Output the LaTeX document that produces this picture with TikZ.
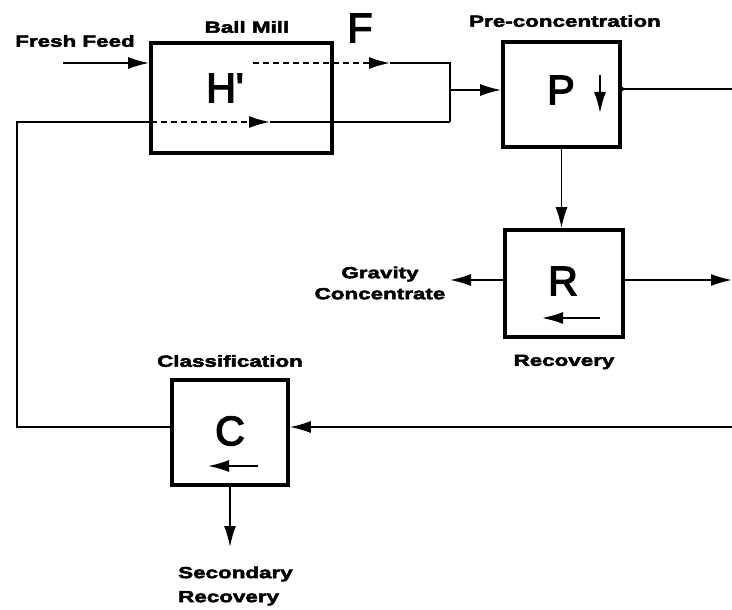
\documentclass[tikz,border=0pt]{standalone}
\usepackage{fontspec}
\newfontfamily\lblfont{Liberation Sans Bold}[FakeStretch=1.40,FakeBold=3]
\newfontfamily\bigfont{Liberation Sans}[FakeBold=3.5]
\usetikzlibrary{arrows.meta}
\tikzset{
  unit/.style={draw, line width=3.6pt, minimum width=#1, inner sep=0pt},
  lbl/.style={font=\lblfont\fontsize{16}{19}\selectfont, inner sep=0pt},
  letter/.style={font=\bigfont\fontsize{41}{41}\selectfont, inner sep=0pt},
  flow/.style={line width=1.8pt},
  dash flow/.style={line width=1.8pt, dash pattern=on 6pt off 4pt},
  tip/.style={-{Latex[length=21pt,width=12pt]}},
}
\begin{document}
\begin{tikzpicture}[x=1pt,y=-1pt]
\useasboundingbox[fill=white] (0,0) rectangle (732,610);
% units
\node[unit=181pt, minimum height=110pt] (H) at (241.5,98) {};
\node[unit=117pt, minimum height=105pt] (P) at (561.5,94.5) {};
\node[unit=118pt, minimum height=107pt] (R) at (564,283.5) {};
\node[unit=116pt, minimum height=105pt] (C) at (230,432.5) {};
% big letters
\node[letter] (Hl) at (225,88) {H'};
\node[letter] (Pl) at (561,90) {P};
\node[letter] (Rl) at (563,281) {R};
\node[letter] (Cl) at (230,431) {C};
\node[letter] (Fl) at (360,28) {F};
% labels
\node[lbl] (ff) at (75,41) {Fresh Feed};
\node[lbl] (bm) at (247,27) {Ball Mill};
\node[lbl] (pc) at (565,21) {Pre-concentration};
\node[lbl, align=center] (gc) at (380,283) {Gravity\\[2pt]Concentrate};
\node[lbl] (rc) at (564,362) {Recovery};
\node[lbl] (cl) at (230,361) {Classification};
\node[lbl, align=left, anchor=west] (sr) at (178,586) {Secondary\\[5pt]Recovery};
% coordinates
\coordinate (ffs) at (63,63);
\coordinate (d1s) at (253,63);
\coordinate (d1a) at (390,63);
\coordinate (j1) at (450,63);
\coordinate (jm) at (450,90);
\coordinate (j2) at (450,122);
\coordinate (lc) at (17,122);
\coordinate (h2) at (151,122);
\coordinate (d2a) at (270,122);
\coordinate (pout) at (732,89);
\coordinate (gce) at (450,280);
\coordinate (rout) at (732,280);
\coordinate (cin) at (732,427);
\coordinate (sec) at (230,547);
% connectors
\draw[flow, tip] (ffs) -- (H.west |- ffs);
\draw[dash flow, tip] (d1s) -- (d1a);
\draw[flow] (d1a) -- (j1) -- (j2);
\draw[flow, tip] (jm) -- (P.west |- jm);
\draw[flow] (C.west |- cin) -| (lc) -- (h2);
\draw[dash flow, tip] (h2) -- (d2a);
\draw[flow] (d2a) -- (j2);
\draw[flow] (P.east |- pout) -- (pout);
\fill (P.east |- pout) circle (2.2pt);
\draw[flow, tip] (P.south) -- (P.south |- R.north);
\draw[flow, tip] (R.west |- gce) -- (gce);
\draw[flow, tip] (R.east |- rout) -- (rout);
\draw[flow, tip] (cin) -- (C.east |- cin);
\draw[flow, tip] (C.south) -- (sec);
% internal direction arrows
\draw[flow, tip] (600,75) -- (600,113);
\draw[flow, tip] (600,318) -- (542,318);
\draw[flow, tip] (258,466) -- (208,466);
\end{tikzpicture}
\end{document}
